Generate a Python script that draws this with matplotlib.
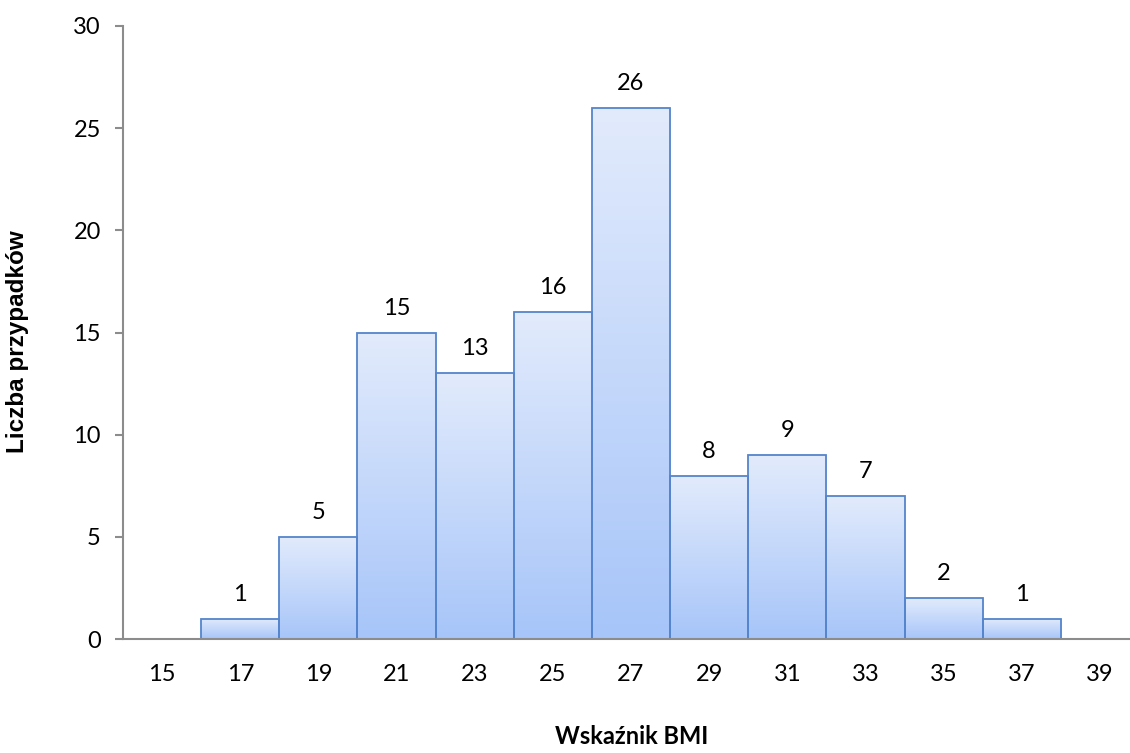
import numpy as np
import matplotlib
matplotlib.use("Agg")
import matplotlib.pyplot as plt
from matplotlib.colors import LinearSegmentedColormap

categories = ["15", "17", "19", "21", "23", "25", "27", "29", "31", "33", "35", "37", "39"]
counts = [0, 1, 5, 15, 13, 16, 26, 8, 9, 7, 2, 1, 0]
y_ticks = [0, 5, 10, 15, 20, 25, 30]

W, H = 1130, 753
fig = plt.figure(figsize=(W / 100, H / 100), dpi=100)
ax = fig.add_axes([123 / W, 1 - 639 / H, (1139 - 123) / W, (639 - 26) / H])

grad = LinearSegmentedColormap.from_list("barfill", ["#a7c5f9", "#e2ebfc"])
gradient = np.linspace(0, 1, 256).reshape(-1, 1)

x = np.arange(len(categories))
bars = ax.bar(x, counts, width=1.0, facecolor="none", edgecolor="#5585cc",
              linewidth=1.3, zorder=3)
for xi, b, v in zip(x, bars, counts):
    if v <= 0:
        continue
    im = ax.imshow(gradient, cmap=grad, aspect="auto", origin="lower",
                   extent=(xi - 0.5, xi + 0.5, 0, v), zorder=2,
                   interpolation="bicubic")
    im.set_clip_path(b)
    ax.annotate(str(v), (xi, v), xytext=(0, 10), textcoords="offset points",
                ha="center", va="bottom", fontsize=17, family="Lato",
                color="#000000")

ax.set_xlim(-0.5, len(categories) - 0.5)
ax.set_ylim(0, 30)
ax.set_yticks(y_ticks)
ax.set_xticks(x)
ax.set_xticklabels(categories)

for s in ["top", "right"]:
    ax.spines[s].set_visible(False)
for s in ["left", "bottom"]:
    ax.spines[s].set_color("#8c8c8c")
    ax.spines[s].set_linewidth(1.5)
    ax.spines[s].set_zorder(4)

ax.tick_params(axis="y", length=6, width=1.5, color="#8c8c8c", pad=10,
               labelsize=17)
ax.tick_params(axis="x", length=0, pad=18, labelsize=17)
for lab in ax.get_xticklabels() + ax.get_yticklabels():
    lab.set_family("Lato")

fig.text(632 / W, 1 - 737 / H, "Wskaźnik BMI", fontsize=17, fontweight="bold",
         family="Lato", ha="center", va="center")
fig.text(18 / W, 1 - 342 / H, "Liczba przypadków", fontsize=17.5,
         fontweight="bold", family="Liberation Sans", rotation=90,
         ha="center", va="center")

fig.savefig("out.png", dpi=100)
